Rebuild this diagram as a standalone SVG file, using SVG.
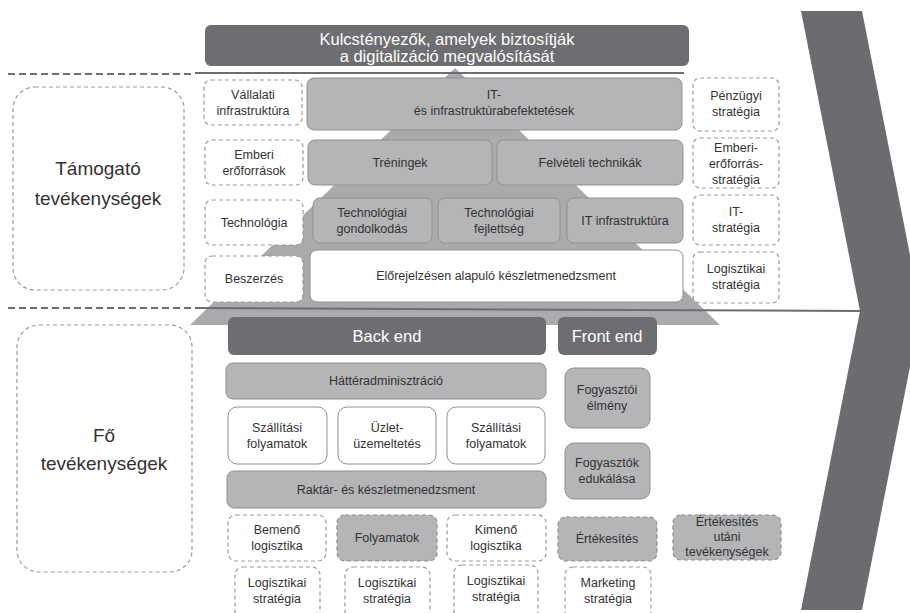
<svg xmlns="http://www.w3.org/2000/svg" width="910" height="613" viewBox="0 0 910 613">
<defs>
<style>
.dk{fill:#6d6e71}
.gr{fill:#b4b5b7;stroke:#8e8f91;stroke-width:1}
.wh{fill:#fff;stroke:#8e8f91;stroke-width:1}
.ds{fill:#fff;stroke:#9b9b9b;stroke-width:1.2;stroke-dasharray:4 3}
.dsg{fill:#b4b5b7;stroke:#8e8f91;stroke-width:1.2;stroke-dasharray:4 3}
text{font-family:"Liberation Sans",Arial,sans-serif;font-size:12.5px;fill:#333;text-anchor:middle}
.big{font-size:19px}
.hd{font-size:16.5px;fill:#fff}
</style>
</defs>
<rect width="910" height="613" fill="#fff"/>
<g id="background">
<polygon points="801,11 862,11 921,311 862,610 801,610 860,311" fill="#6b6c70"/>
<polygon points="455,68 720,325 190,325" fill="#a9aaac"/>
</g>
<g id="connectors">
<line x1="8" y1="74" x2="195" y2="74" stroke="#6d6e71" stroke-width="2" stroke-dasharray="7 4"/>
<line x1="195" y1="73" x2="684" y2="73" stroke="#6d6e71" stroke-width="2"/>
<line x1="8" y1="308" x2="195" y2="308" stroke="#6d6e71" stroke-width="2" stroke-dasharray="7 4"/>
<line x1="195" y1="308" x2="860" y2="311" stroke="#6d6e71" stroke-width="2"/>
</g>
<g id="title"><rect class="dk" x="205" y="25" width="484" height="41" rx="6"/><text class="hd" x="447" y="45">Kulcstényezők, amelyek biztosítják</text><text class="hd" x="447" y="62">a digitalizáció megvalósítását</text></g>
<g id="tamogato"><rect class="ds" x="13" y="87" width="171" height="203" rx="22"/><text class="big" x="98" y="175">Támogató</text><text class="big" x="98" y="205">tevékenységek</text></g>
<g id="vallalati"><rect class="ds" x="204" y="80" width="98" height="45" rx="7"/><text x="253" y="99">Vállalati</text><text x="253" y="115">infrastruktúra</text></g>
<g id="emberi"><rect class="ds" x="205" y="140" width="98" height="45" rx="7"/><text x="254" y="159">Emberi</text><text x="254" y="175">erőforrások</text></g>
<g id="technologia"><rect class="ds" x="205" y="200" width="98" height="45" rx="7"/><text x="254" y="227">Technológia</text></g>
<g id="beszerzes"><rect class="ds" x="205" y="256" width="98" height="46" rx="7"/><text x="254" y="283">Beszerzés</text></g>
<g id="it-beruhazas"><rect class="gr" x="307" y="78" width="375" height="52" rx="7"/><text x="494" y="99">IT-</text><text x="494" y="115">és infrastruktúrabefektetések</text></g>
<g id="treningek"><rect class="gr" x="308" y="140" width="184" height="45" rx="7"/><text x="400" y="167">Tréningek</text></g>
<g id="felveteli"><rect class="gr" x="497" y="140" width="186" height="45" rx="7"/><text x="590" y="167">Felvételi technikák</text></g>
<g id="tech-gond"><rect class="gr" x="313" y="198" width="119" height="45" rx="7"/><text x="372" y="217">Technológiai</text><text x="372" y="233">gondolkodás</text></g>
<g id="tech-fejl"><rect class="gr" x="438" y="198" width="122" height="45" rx="7"/><text x="499" y="217">Technológiai</text><text x="499" y="233">fejlettség</text></g>
<g id="it-infra"><rect class="gr" x="567" y="198" width="116" height="45" rx="7"/><text x="625" y="225">IT infrastruktúra</text></g>
<g id="elorejelzes"><rect class="wh" x="310" y="250" width="373" height="52" rx="7"/><text x="496" y="280">Előrejelzésen alapuló készletmenedzsment</text></g>
<g id="penzugyi"><rect class="ds" x="693" y="78" width="86" height="53" rx="7"/><text x="736" y="100">Pénzügyi</text><text x="736" y="116">stratégia</text></g>
<g id="emberi-strat"><rect class="ds" x="693" y="138" width="86" height="50" rx="7"/><text x="736" y="152">Emberi-</text><text x="736" y="168">erőforrás-</text><text x="736" y="184">stratégia</text></g>
<g id="it-strat"><rect class="ds" x="693" y="195" width="86" height="50" rx="7"/><text x="736" y="216">IT-</text><text x="736" y="232">stratégia</text></g>
<g id="log-strat-top"><rect class="ds" x="693" y="252" width="86" height="51" rx="7"/><text x="736" y="273">Logisztikai</text><text x="736" y="289">stratégia</text></g>
<g id="fo"><rect class="ds" x="17" y="325" width="175" height="247" rx="22"/><text class="big" x="104" y="442">Fő</text><text class="big" x="104" y="470">tevékenységek</text></g>
<g id="backend"><rect class="dk" x="228" y="317" width="318" height="38" rx="6"/><text class="hd" x="387" y="342">Back end</text></g>
<g id="frontend"><rect class="dk" x="558" y="317" width="99" height="38" rx="6"/><text class="hd" x="607" y="342">Front end</text></g>
<g id="hatter"><rect class="gr" x="226" y="363" width="320" height="36" rx="7"/><text x="386" y="385">Háttéradminisztráció</text></g>
<g id="szall1"><rect class="wh" x="228" y="407" width="99" height="57" rx="9"/><text x="277" y="432">Szállítási</text><text x="277" y="448">folyamatok</text></g>
<g id="uzlet"><rect class="wh" x="338" y="407" width="98" height="57" rx="9"/><text x="387" y="432">Üzlet-</text><text x="387" y="448">üzemeltetés</text></g>
<g id="szall2"><rect class="wh" x="447" y="407" width="98" height="57" rx="9"/><text x="496" y="432">Szállítási</text><text x="496" y="448">folyamatok</text></g>
<g id="raktar"><rect class="gr" x="227" y="471" width="319" height="37" rx="7"/><text x="386" y="494">Raktár- és készletmenedzsment</text></g>
<g id="fogy-elmeny"><rect class="gr" x="565" y="368" width="85" height="60" rx="9"/><text x="607" y="394">Fogyasztói</text><text x="607" y="410">élmény</text></g>
<g id="fogy-eduk"><rect class="gr" x="565" y="443" width="85" height="56" rx="9"/><text x="607" y="467">Fogyasztók</text><text x="607" y="483">edukálása</text></g>
<g id="bemeno"><rect class="ds" x="228" y="515" width="98" height="46" rx="8"/><text x="277" y="534">Bemenő</text><text x="277" y="550">logisztika</text></g>
<g id="folyamatok"><rect class="dsg" x="337" y="515" width="100" height="46" rx="8"/><text x="387" y="542">Folyamatok</text></g>
<g id="kimeno"><rect class="ds" x="447" y="515" width="99" height="46" rx="8"/><text x="496" y="534">Kimenő</text><text x="496" y="550">logisztika</text></g>
<g id="ertekesites"><rect class="dsg" x="558" y="517" width="99" height="44" rx="8"/><text x="607" y="543">Értékesítés</text></g>
<g id="ert-utani"><rect class="dsg" x="673" y="515" width="108" height="45" rx="8"/><text x="727" y="526">Értékesítés</text><text x="727" y="541">utáni</text><text x="727" y="556">tevékenységek</text></g>
<g id="log-strat-1"><rect class="ds" x="235" y="567" width="85" height="56" rx="8"/><text x="277" y="587">Logisztikai</text><text x="277" y="603">stratégia</text></g>
<g id="log-strat-2"><rect class="ds" x="345" y="567" width="85" height="56" rx="8"/><text x="387" y="587">Logisztikai</text><text x="387" y="603">stratégia</text></g>
<g id="log-strat-3"><rect class="ds" x="454" y="565" width="84" height="58" rx="8"/><text x="496" y="585">Logisztikai</text><text x="496" y="601">stratégia</text></g>
<g id="marketing"><rect class="ds" x="565" y="567" width="86" height="56" rx="8"/><text x="608" y="587">Marketing</text><text x="608" y="603">stratégia</text></g>
</svg>
